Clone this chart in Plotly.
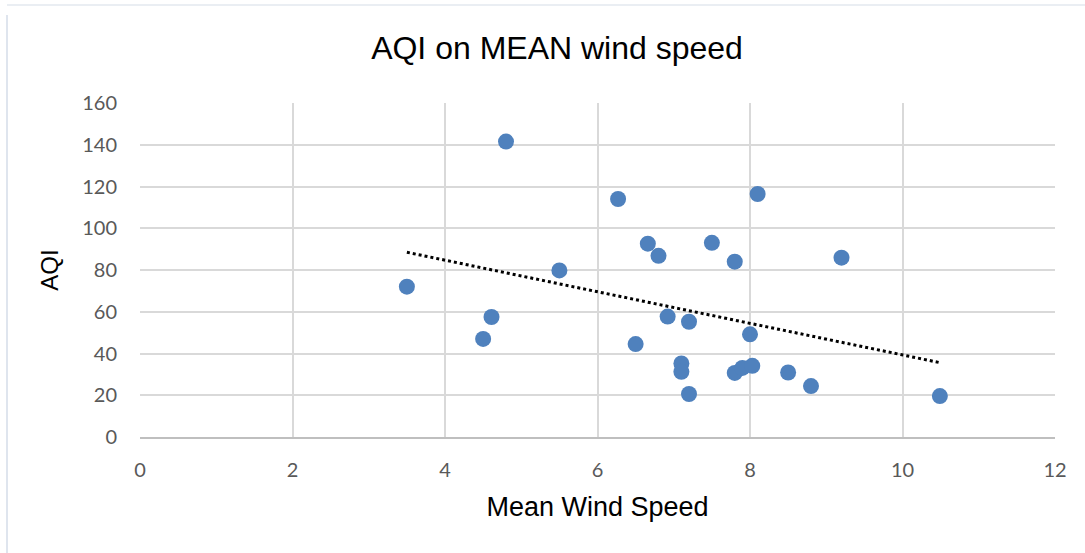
import numpy as np
import plotly.graph_objects as go

wind_speed = [4.80, 6.27, 8.10, 6.66, 6.80, 7.50, 7.80, 9.20, 5.50, 3.50,
              4.61, 4.50, 6.50, 6.92, 7.20, 7.10, 7.10, 7.20, 8.00, 7.80,
              7.90, 8.03, 8.50, 8.80, 10.49]
aqi = [141.5, 114.0, 116.4, 92.6, 86.8, 93.0, 84.0, 85.9, 79.8, 72.0,
       57.5, 47.0, 44.5, 57.7, 55.2, 35.2, 31.2, 20.6, 49.2, 30.7,
       33.1, 34.1, 30.9, 24.4, 19.6]
x_ticks = [0, 2, 4, 6, 8, 10, 12]
y_ticks = [0, 20, 40, 60, 80, 100, 120, 140, 160]

slope, intercept = np.polyfit(wind_speed, aqi, 1)
tx = np.array([min(wind_speed), max(wind_speed)])
ty = slope * tx + intercept

fig = go.Figure()
fig.add_trace(go.Scatter(
    x=wind_speed, y=aqi, mode="markers",
    marker=dict(size=16, color="#4F81BD", line=dict(width=0)),
    showlegend=False, hoverinfo="x+y"))
fig.add_trace(go.Scatter(
    x=tx, y=ty, mode="lines",
    line=dict(color="black", width=3, dash="dot"),
    showlegend=False, hoverinfo="skip"))

tick_font = dict(family="Lato, 'Open Sans', sans-serif", size=20, color="#595959")
fig.update_layout(
    width=1085, height=553,
    margin=dict(l=140, r=30, t=103, b=116),
    paper_bgcolor="white", plot_bgcolor="white",
    title=dict(text="AQI on MEAN wind speed", x=557/1085, xref="container",
               xanchor="center", y=1 - 48/553, yref="container", yanchor="middle",
               font=dict(family="Liberation Sans, Arial, sans-serif", size=32, color="black")),
    xaxis=dict(range=[0, 12], tickvals=x_ticks, showgrid=True, gridcolor="#d9d9d9", gridwidth=1.5,
               zeroline=False, showline=True, linecolor="#bfbfbf", linewidth=1.5,
               tickfont=tick_font, ticklabelstandoff=14,
               title=dict(text="Mean Wind Speed", standoff=17,
                          font=dict(family="Liberation Sans, Arial, sans-serif", size=27, color="black"))),
    yaxis=dict(range=[0, 160], tickvals=y_ticks, showgrid=True, gridcolor="#d9d9d9", gridwidth=1.5,
               zeroline=False, showline=False,
               tickfont=tick_font, ticklabelstandoff=22,
               title=dict(text="AQI", standoff=16,
                          font=dict(family="Liberation Sans, Arial, sans-serif", size=24, color="black"))),
    shapes=[
        dict(type="line", xref="paper", yref="paper", x0=-133/915, x1=-133/915, y0=-116/334, y1=(437-15)/334,
             line=dict(color="#d5dde8", width=1.5)),
        dict(type="line", xref="paper", yref="paper", x0=-133/915, x1=1 + 30/915, y0=(437-5)/334, y1=(437-5)/334,
             line=dict(color="#e3e8ef", width=1.5)),
    ],
)
fig.write_html("out.html")
